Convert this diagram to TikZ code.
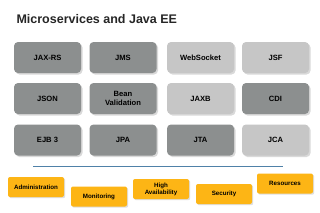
\documentclass[tikz,border=0pt]{standalone}
\usepackage{fontspec}
\setmainfont{Liberation Sans}
\usepackage{tikz}
\usetikzlibrary{shadows}

\definecolor{darkbox}{HTML}{8C8F8F}
\definecolor{lightbox}{HTML}{C6C6C6}
\definecolor{amberbox}{HTML}{FDB515}
\definecolor{rulecol}{HTML}{4F81A8}

\tikzset{
  apibox/.style={rounded corners=4pt, minimum width=67pt, minimum height=31pt,
    align=center, font=\fontsize{7.6}{9}\selectfont\bfseries, inner sep=1pt,
    drop shadow={shadow xshift=1.5pt, shadow yshift=-1.5pt, fill=gray!30, opacity=1}},
  darkapi/.style={apibox, fill=darkbox},
  lightapi/.style={apibox, fill=lightbox},
  opsbox/.style={rounded corners=2pt, fill=amberbox, minimum width=56pt, minimum height=20pt,
    align=center, font=\fontsize{6.2}{7}\selectfont\bfseries, inner sep=1pt,
    drop shadow={shadow xshift=1.2pt, shadow yshift=-1.2pt, fill=gray!25, opacity=1}}
}

\begin{document}
\begin{tikzpicture}[x=1pt,y=-1pt]
\useasboundingbox[fill=white] (0,0) rectangle (320,212);
\node[anchor=west, font=\fontsize{12.5}{14}\selectfont\bfseries, text=black!85] (title) at (13,19.5) {Microservices and Java EE};
% first row
\node[darkapi] (jaxrs) at (47.5,57.5) {JAX-RS};
\node[darkapi] (jms) at (123,57.5) {JMS};
\node[lightapi] (websocket) at (200.5,57.5) {WebSocket};
\node[lightapi] (jsf) at (275.5,57.5) {JSF};
% second row
\node[darkapi] (json) at (47.5,98.5) {JSON};
\node[darkapi] (beanval) at (123,98.5) {Bean\\Validation};
\node[lightapi] (jaxb) at (200.5,98.5) {JAXB};
\node[darkapi] (cdi) at (275.5,98.5) {CDI};
% third row
\node[darkapi] (ejb) at (47.5,140) {EJB 3};
\node[darkapi] (jpa) at (123,140) {JPA};
\node[darkapi] (jta) at (200.5,140) {JTA};
\node[lightapi] (jca) at (275.5,140) {JCA};
% separator
\draw[rulecol, line width=1pt] (33,166) -- (283,166);
% operations
\node[opsbox] (admin) at (36,187) {Administration};
\node[opsbox] (monitor) at (99,196.5) {Monitoring};
\node[opsbox] (avail) at (161,189) {High\\Availability};
\node[opsbox] (security) at (224,194) {Security};
\node[opsbox] (resources) at (285,183.5) {Resources};
\end{tikzpicture}
\end{document}
